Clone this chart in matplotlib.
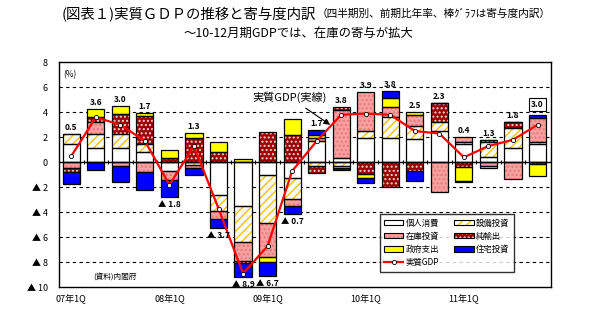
import numpy as np
import matplotlib
matplotlib.use("Agg")
import matplotlib.pyplot as plt
from matplotlib.patches import Patch
from matplotlib.lines import Line2D

plt.rcParams['font.family'] = ['Noto Sans CJK JP', 'DejaVu Sans']
plt.rcParams['hatch.linewidth'] = 1.0

# 寄与度データ (07年1Q ～ 11年4Q)
quarters = list(range(20))
xtick_pos = [0, 4, 8, 12, 16]
xtick_labels = ["07年1Q", "08年1Q", "09年1Q", "10年1Q", "11年1Q"]

kojin = [1.5, 1.12, 1.17, 0.8, -0.7, 0.0, -2.62, -3.5, -1.02, -1.28,
         1.7, 0.37, 1.97, 1.97, 1.84, 2.5, 1.44, 0.45, 1.17, 1.44]
setsubi = [0.75, 1.12, 1.07, 0.64, 0.0, -0.2, -1.25, -2.85, -3.86, -1.68,
           -0.3, -0.3, 0.53, 1.68, 1.07, 0.75, 0.21, 1.15, 1.55, 0.16]
zaiko = [-0.45, 1.0, -0.3, -0.75, -0.7, -0.27, -0.69, -1.52, -2.72, -0.54,
         0.22, 3.82, 3.1, 0.75, 0.88, -2.4, 0.35, -0.3, -1.33, 1.92]
junyushutsu = [-0.3, 0.4, 1.6, 2.27, 0.32, 1.97, 0.8, -0.21, 2.45, 2.19,
               -0.58, 0.21, -0.96, -1.95, -0.69, 1.47, -0.35, 0.19, 0.48, -0.16]
seifu = [0.0, 0.62, 0.66, 0.21, 0.67, 0.35, 0.8, 0.3, -0.35, 1.25,
         0.27, -0.18, -0.27, 0.77, 0.21, 0.0, -1.14, -0.18, 0.0, -0.91]
jutaku = [-1.0, -0.61, -1.25, -1.47, -1.38, -0.53, -0.72, -1.12, -1.15, -0.64,
          0.4, -0.13, -0.45, 0.54, -0.8, 0.0, -0.12, 0.0, 0.0, 0.27]
gdp = [0.5, 3.6, 3.0, 1.7, -1.8, 1.3, -3.7, -8.9, -6.7, -0.7,
       1.7, 3.8, 3.9, 3.8, 2.5, 2.3, 0.4, 1.3, 1.8, 3.0]

yticks = [8, 6, 4, 2, 0, -2, -4, -6, -8, -10]

# 系列ごとのスタイル (表示名, 値, 塗り, ハッチ, ハッチ色)
series = [
    ("個人消費", kojin, "white", None, None),
    ("設備投資", setsubi, "white", "////", "#F2C200"),
    ("在庫投資", zaiko, "#F7A0A0", "....", "#E87878"),
    ("純輸出", junyushutsu, "#990000", "....", "#F0D0D0"),
    ("政府支出", seifu, "#FFFF00", None, None),
    ("住宅投資", jutaku, "#0000FF", None, None),
]

fig = plt.figure(figsize=(5.98, 3.34), dpi=100)
ax = fig.add_axes([0.0987, 0.1398, 0.8227, 0.6737])

x = np.array(quarters)
width = 0.7
pos_bottom = np.zeros(len(x))
neg_bottom = np.zeros(len(x))
for name, vals, fc, hatch, hc in series:
    v = np.array(vals)
    bottoms = np.where(v >= 0, pos_bottom, neg_bottom)
    if hatch:
        ax.bar(x, v, width, bottom=bottoms, color=fc, hatch=hatch,
               edgecolor=hc, linewidth=0, zorder=2)
    else:
        ax.bar(x, v, width, bottom=bottoms, color=fc, linewidth=0, zorder=2)
    ax.bar(x, v, width, bottom=bottoms, facecolor="none",
           edgecolor="black", linewidth=0.9, zorder=3)
    pos_bottom = pos_bottom + np.where(v > 0, v, 0)
    neg_bottom = neg_bottom + np.where(v < 0, v, 0)

# 実質GDP
ax.plot(x, gdp, color="#FF0000", lw=1.6, zorder=5)
ax.plot(x, gdp, "o", ms=3, mfc="white", mec="black", mew=0.6, zorder=6)

# ラベル
for i, g in enumerate(gdp):
    txt = f"{g:.1f}" if g >= 0 else f"▲ {abs(g):.1f}"
    if g >= 0:
        if i == len(gdp) - 1:
            ax.text(i, pos_bottom[i] + 0.85, txt, ha="center", va="center",
                    fontsize=6, fontweight="bold", zorder=7,
                    bbox=dict(boxstyle="square,pad=0.25", fc="white", ec="black", lw=0.8))
        else:
            ax.text(i, pos_bottom[i] + 0.55, txt, ha="center", va="center",
                    fontsize=6, fontweight="bold", zorder=7)
    else:
        ax.text(i, neg_bottom[i] - 0.6, txt, ha="center", va="center",
                fontsize=6, fontweight="bold", zorder=7)

# 目盛線
for t in yticks:
    if t == 0:
        ax.axhline(0, color="black", lw=1.0, zorder=4)
    elif -10 < t < 8:
        ax.axhline(t, color="black", lw=0.8, ls=(0, (3, 3)), zorder=1)
bounds = x[:-1] + 0.5
ax.plot(bounds, np.zeros(len(bounds)), "|", color="black", ms=3, mew=0.8, zorder=4)

ax.set_xlim(-0.5, 19.55)
ax.set_ylim(-10, 8)
ax.set_yticks(yticks)
ax.set_yticklabels([str(t) if t >= 0 else f"▲ {abs(t)}" for t in yticks], fontsize=6.5)
ax.set_xticks(xtick_pos)
ax.set_xticklabels(xtick_labels, fontsize=6.5)
ax.tick_params(axis="both", length=0)
ax.tick_params(axis="y", pad=8)
ax.tick_params(axis="x", pad=5)
for s in ax.spines.values():
    s.set_linewidth(1.0)
    s.set_color("black")

ax.text(0.008, 0.945, "(%)", transform=ax.transAxes, fontsize=6, va="center")

ax.annotate("実質GDP(実線)", xy=(10.55, 3.0), xytext=(8.9, 5.2),
            fontsize=8, ha="center", va="center",
            arrowprops=dict(arrowstyle="-|>", color="black", lw=0.8,
                            shrinkA=3, shrinkB=0, mutation_scale=9), zorder=8)

# 凡例
handles = []
labels = []
for name, vals, fc, hatch, hc in series:
    if hatch:
        h = (Patch(facecolor=fc, hatch=hatch, edgecolor=hc, lw=0),
             Patch(facecolor="none", edgecolor="black", lw=0.8))
    else:
        h = Patch(facecolor=fc, edgecolor="black", lw=0.8)
    handles.append(h)
    labels.append(name)
gdp_handle = Line2D([], [], color="#FF0000", lw=1.6, marker="o", ms=3,
                    mfc="white", mec="black", mew=0.6)
order = [0, 2, 4, None, 1, 3, 5]
leg_h = [handles[k] if k is not None else gdp_handle for k in order]
leg_l = [labels[k] if k is not None else "実質GDP" for k in order]
leg = fig.legend(leg_h, leg_l, loc="upper left", bbox_to_anchor=(0.628, 0.372),
                 ncol=2, fontsize=6, frameon=True, fancybox=False,
                 edgecolor="black", handlelength=2.3, handleheight=0.6,
                 handletextpad=0.3, columnspacing=1.8, labelspacing=0.5,
                 borderpad=0.55)
leg.get_frame().set_linewidth(1.0)
leg.set_zorder(10)

# タイトル
fig.text(62 / 598, 1 - 14 / 334, "(図表１)実質ＧＤＰの推移と寄与度内訳",
         fontsize=10.4, va="center", ha="left")
fig.text(317 / 598, 1 - 14 / 334, "（四半期別、前期比年率、棒ｸﾞﾗﾌは寄与度内訳）",
         fontsize=7.7, va="center", ha="left")
fig.text(298 / 598, 1 - 33 / 334, "～10-12月期GDPでは、在庫の寄与が拡大",
         fontsize=8.9, va="center", ha="center")
fig.text(93 / 598, 1 - 277 / 334, "(資料)内閣府", fontsize=5.5, va="center", ha="left")

fig.savefig("out.png", dpi=100)
